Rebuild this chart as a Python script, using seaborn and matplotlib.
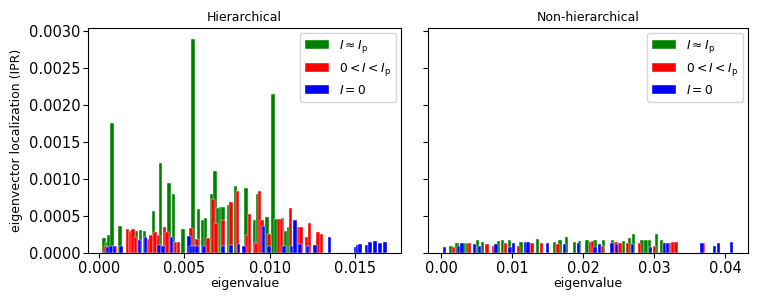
import numpy as np
import matplotlib
matplotlib.use("Agg")
import matplotlib.pyplot as plt
import seaborn as sns

# Hierarchical: eigenvalue / IPR per group
h_green_x = [0.00029, 0.00045, 0.00057, 0.00076, 0.00124, 0.00219, 0.00242, 0.00267, 0.00319,
             0.00359, 0.00410, 0.00435, 0.00492, 0.00550, 0.00582, 0.00609, 0.00622, 0.00662,
             0.00677, 0.00696, 0.00712, 0.00725, 0.00761, 0.00799, 0.00861, 0.00910, 0.00927,
             0.00983, 0.01017, 0.01034, 0.01074, 0.01095, 0.01110]
h_green_y = [0.00020, 0.00015, 0.00024, 0.00175, 0.00036, 0.00030, 0.00031, 0.00030, 0.00057,
             0.00121, 0.00095, 0.00079, 0.00033, 0.00289, 0.00060, 0.00045, 0.00047, 0.00080,
             0.00110, 0.00061, 0.00062, 0.00062, 0.00065, 0.00090, 0.00088, 0.00044, 0.00079,
             0.00048, 0.00215, 0.00046, 0.00047, 0.00029, 0.00035]
h_red_x = [0.00038, 0.00095, 0.00166, 0.00185, 0.00198, 0.00214, 0.00290, 0.00303, 0.00328,
           0.00347, 0.00382, 0.00399, 0.00447, 0.00466, 0.00538, 0.00572, 0.00637, 0.00668,
           0.00685, 0.00725, 0.00773, 0.00811, 0.00866, 0.00881, 0.00920, 0.00939, 0.00952,
           0.00996, 0.01053, 0.01068, 0.01120, 0.01168, 0.01183, 0.01216, 0.01231, 0.01282,
           0.01302]
h_red_y = [0.00010, 0.00010, 0.00032, 0.00030, 0.00032, 0.00021, 0.00019, 0.00024, 0.00028,
           0.00024, 0.00035, 0.00028, 0.00015, 0.00015, 0.00034, 0.00019, 0.00020, 0.00073,
           0.00040, 0.00045, 0.00069, 0.00083, 0.00024, 0.00052, 0.00013, 0.00084, 0.00044,
           0.00026, 0.00046, 0.00046, 0.00061, 0.00035, 0.00035, 0.00022, 0.00041, 0.00028,
           0.00025]
h_blue_x = [0.00052, 0.00071, 0.00090, 0.00128, 0.00237, 0.00271, 0.00351, 0.00376, 0.00424,
            0.00525, 0.00538, 0.00557, 0.00572, 0.00614, 0.00725, 0.00771, 0.00815, 0.00847,
            0.00962, 0.00996, 0.01082, 0.01126, 0.01145, 0.01177, 0.01221, 0.01263, 0.01349,
            0.01502, 0.01515, 0.01526, 0.01565, 0.01587, 0.01616, 0.01645, 0.01673]
h_blue_y = [0.00008, 0.00010, 0.00010, 0.00009, 0.00018, 0.00022, 0.00011, 0.00010, 0.00022,
            0.00023, 0.00009, 0.00010, 0.00010, 0.00010, 0.00010, 0.00011, 0.00012, 0.00010,
            0.00036, 0.00010, 0.00010, 0.00010, 0.00045, 0.00012, 0.00010, 0.00011, 0.00022,
            0.00008, 0.00011, 0.00012, 0.00011, 0.00015, 0.00016, 0.00013, 0.00015]

# Non-hierarchical
n_green_x = [0.00141, 0.00225, 0.00328, 0.00375, 0.00516, 0.00586, 0.00811, 0.00868, 0.00961,
             0.01126, 0.01360, 0.01595, 0.01674, 0.01763, 0.01876, 0.01946, 0.02054, 0.02167,
             0.02289, 0.02415, 0.02565, 0.02650, 0.02706, 0.02828, 0.02884, 0.02931, 0.03034,
             0.03105]
n_green_y = [0.00009, 0.00013, 0.00014, 0.00014, 0.00017, 0.00015, 0.00016, 0.00017, 0.00018,
             0.00015, 0.00019, 0.00015, 0.00018, 0.00022, 0.00015, 0.00016, 0.00018, 0.00017,
             0.00017, 0.00017, 0.00016, 0.00020, 0.00025, 0.00017, 0.00018, 0.00017, 0.00025,
             0.00017]
n_red_x = [0.00178, 0.00399, 0.00647, 0.00736, 0.00905, 0.01088, 0.01280, 0.01416, 0.01642,
           0.02101, 0.02134, 0.02275, 0.02462, 0.02519, 0.02626, 0.02790, 0.03002, 0.03213,
           0.03260, 0.03306, 0.03686]
n_red_y = [0.00008, 0.00013, 0.00012, 0.00009, 0.00013, 0.00009, 0.00013, 0.00013, 0.00012,
           0.00015, 0.00016, 0.00010, 0.00015, 0.00014, 0.00014, 0.00013, 0.00010, 0.00014,
           0.00015, 0.00015, 0.00014]
n_blue_x = [0.00047, 0.00249, 0.00295, 0.00469, 0.00539, 0.00774, 0.00971, 0.01022, 0.01196,
            0.01224, 0.01501, 0.01740, 0.01932, 0.02167, 0.02228, 0.02406, 0.02472, 0.02697,
            0.02945, 0.03142, 0.03189, 0.03668, 0.03846, 0.03902, 0.04090]
n_blue_y = [0.00008, 0.00010, 0.00013, 0.00012, 0.00009, 0.00012, 0.00008, 0.00013, 0.00015,
            0.00015, 0.00013, 0.00012, 0.00013, 0.00008, 0.00012, 0.00014, 0.00012, 0.00012,
            0.00008, 0.00014, 0.00013, 0.00013, 0.00009, 0.00013, 0.00015]

labels = [r'$I \approx I_{\rm p}$', r'$0 < I < I_{\rm p}$', r'$I = 0$']
colors = ['green', 'red', 'blue']

sns.set_style("ticks", {"axes.edgecolor": "black", "text.color": "black",
                        "xtick.color": "black", "ytick.color": "black",
                        "axes.labelcolor": "black"})
plt.rcParams['font.family'] = ['DejaVu Sans']

fig = plt.figure(figsize=(7.63, 3.05), dpi=100)
ax1 = fig.add_axes([0.1153, 0.1705, 0.4102, 0.7377])
ax2 = fig.add_axes([0.5610, 0.1705, 0.4194, 0.7377], sharey=ax1)

panels = [
    (ax1, 'Hierarchical', [(h_green_x, h_green_y), (h_red_x, h_red_y), (h_blue_x, h_blue_y)], 0.00021),
    (ax2, 'Non-hierarchical', [(n_green_x, n_green_y), (n_red_x, n_red_y), (n_blue_x, n_blue_y)], 0.0005),
]

for ax, title, groups, w in panels:
    for (xs, ys), c, lab in zip(groups, colors, labels):
        ax.bar(xs, ys, width=w, color=c, edgecolor='white', linewidth=0.3, label=lab)
    ax.set_title(title, fontsize=9, pad=5)
    ax.set_xlabel('eigenvalue', fontsize=9, labelpad=1)
    ax.tick_params(labelsize=10.5, length=3.5, width=0.8, pad=2)
    ax.legend(loc='upper right', fontsize=8.8, borderaxespad=0.4)
    for s in ax.spines.values():
        s.set_linewidth(0.8)

ax1.set_ylabel('eigenvector localization (IPR)', fontsize=9)
ax2.tick_params(labelleft=False)

fig.savefig('out.png', dpi=100)
